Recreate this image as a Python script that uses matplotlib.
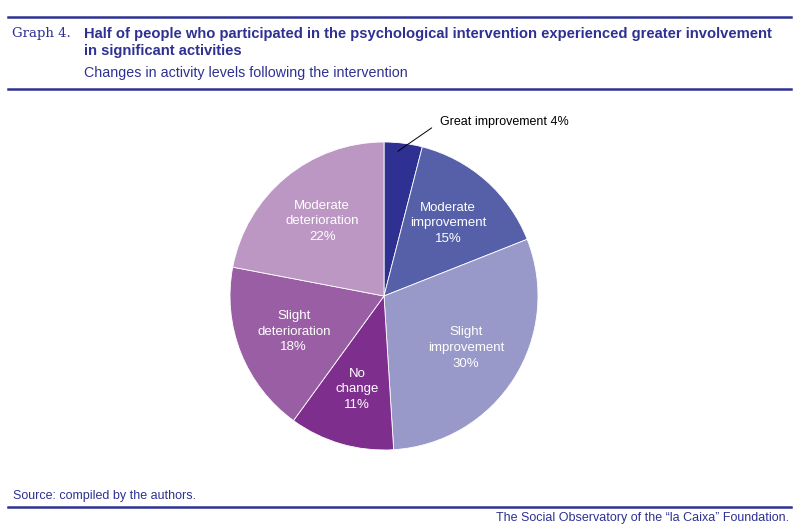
import matplotlib.pyplot as plt
from matplotlib.lines import Line2D

categories = ["Great improvement", "Moderate\nimprovement", "Slight\nimprovement",
              "No\nchange", "Slight\ndeterioration", "Moderate\ndeterioration"]
shares = [4, 15, 30, 11, 18, 22]
colors = ["#2e3192", "#5660a8", "#9999c9", "#7e2f8e", "#9a5ea4", "#bc97c4"]

navy = "#2e3192"
plt.rcParams['font.family'] = ['Liberation Sans', 'DejaVu Sans']

fig = plt.figure(figsize=(8, 5.31), dpi=100)

# header / footer rules
for y in [17, 89, 507]:
    fig.add_artist(Line2D([8 / 800, 791 / 800], [1 - y / 531, 1 - y / 531],
                          color=navy, lw=1.8, transform=fig.transFigure))

fig.text(12 / 800, 1 - 34 / 531, "Graph 4.", family="DejaVu Serif", fontsize=9.5,
         color=navy, va="center", ha="left")
fig.text(84 / 800, 1 - 34 / 531,
         "Half of people who participated in the psychological intervention experienced greater involvement",
         fontsize=10.6, fontweight="bold", color=navy, va="center", ha="left")
fig.text(84 / 800, 1 - 51 / 531, "in significant activities",
         fontsize=10.6, fontweight="bold", color=navy, va="center", ha="left")
fig.text(84 / 800, 1 - 73 / 531, "Changes in activity levels following the intervention",
         fontsize=10.3, color=navy, va="center", ha="left")
fig.text(13 / 800, 1 - 496 / 531, "Source: compiled by the authors.",
         fontsize=9, color=navy, va="center", ha="left")
fig.text(789 / 800, 1 - 518 / 531, "The Social Observatory of the \u201cla Caixa\u201d Foundation.",
         fontsize=9, color=navy, va="center", ha="right")

# pie
cx, cy, r = 384, 296, 154
ax = fig.add_axes([(cx - r) / 800, 1 - (cy + r) / 531, 2 * r / 800, 2 * r / 531])
labels = [""] + [c + "\n%d%%" % s for c, s in zip(categories[1:], shares[1:])]
wedges, texts = ax.pie(shares, colors=colors, startangle=90, counterclock=False,
                       labels=labels, labeldistance=0.63,
                       wedgeprops=dict(linewidth=0.6, edgecolor="white"),
                       textprops=dict(linespacing=1.4))
for t in texts:
    t.set_ha("center")
    t.set_va("center")
    t.set_color("white")
    t.set_fontsize(9.5)
ax.set_xlim(-1, 1)
ax.set_ylim(-1, 1)

ax.annotate("Great improvement %d%%" % shares[0], xy=(0.09, 0.94), xytext=(0.365, 1.13),
            fontsize=9, color="black", ha="left", va="center",
            arrowprops=dict(arrowstyle="-", color="black", lw=0.7, shrinkB=0, shrinkA=5,
                            relpos=(0, 0.5)))

fig.savefig("out.png", dpi=100)
